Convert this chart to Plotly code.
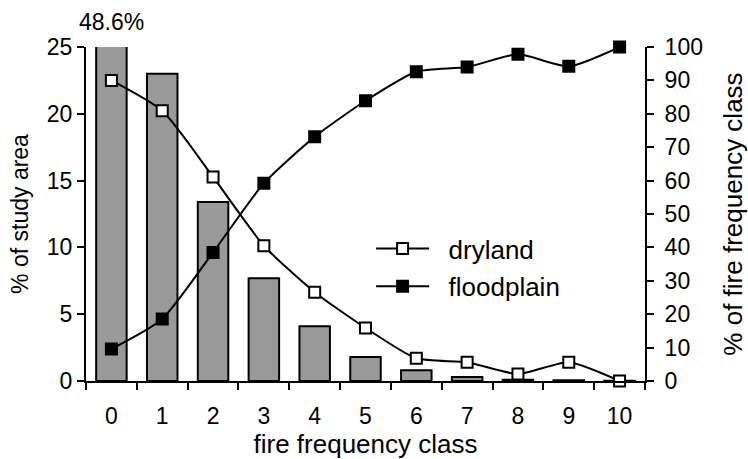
import plotly.graph_objects as go

# fire frequency classes
classes = [str(i) for i in range(11)]

# share of study area in each class (%)
area_pct = [48.6, 23.0, 13.4, 7.7, 4.1, 1.8, 0.8, 0.3, 0.1, 0.05, 0.02]

# composition of each fire frequency class (%)
dryland = [90.0, 80.9, 61.1, 40.5, 26.6, 15.9, 6.8, 5.6, 2.1, 5.6, 0.0]
floodplain = [9.6, 18.6, 38.5, 59.2, 73.1, 83.9, 92.6, 94.0, 97.8, 94.2, 100.0]

FONT = "Liberation Sans, Arial, sans-serif"
TICK_SIZE = 23
TITLE_SIZE = 26
PAD = "\u00a0\u00a0"  # gap between legend symbol and label

fig = go.Figure()

fig.add_trace(go.Bar(
    x=classes, y=area_pct, width=0.6,
    marker=dict(color="#999999", line=dict(color="black", width=2)),
    showlegend=False, yaxis="y",
))

fig.add_trace(go.Scatter(
    x=classes, y=dryland, name=PAD + "dryland", yaxis="y2",
    mode="lines+markers", line=dict(color="black", width=2, shape="spline", smoothing=0.6),
    marker=dict(symbol="square", size=11, color="white", line=dict(color="black", width=2)),
    legendgroup="a", cliponaxis=False,
))
fig.add_trace(go.Scatter(
    x=classes, y=floodplain, name=PAD + "floodplain", yaxis="y2",
    mode="lines+markers", line=dict(color="black", width=2, shape="spline", smoothing=0.6),
    marker=dict(symbol="square", size=11, color="black", line=dict(color="black", width=2)),
    legendgroup="b", cliponaxis=False,
))

# value of the clipped first bar
fig.add_annotation(
    x=classes[0], y=1.0, xref="x", yref="paper", yanchor="bottom", yshift=10,
    text=f"{area_pct[0]}%", showarrow=False, font=dict(size=TICK_SIZE, color="black", family=FONT),
)

axis_common = dict(
    showgrid=False, zeroline=False, showline=True, linecolor="black", linewidth=2,
    ticks="outside", ticklen=7, tickwidth=2, tickcolor="black",
    tickfont=dict(size=TICK_SIZE, color="black", family=FONT),
    title_font=dict(size=TITLE_SIZE, color="black", family=FONT),
    automargin=False,
)

fig.update_layout(
    width=748, height=459,
    margin=dict(l=86, r=103, t=47, b=78),
    paper_bgcolor="white", plot_bgcolor="white",
    font=dict(family=FONT, size=TITLE_SIZE, color="black"),
    bargap=0.4,
    xaxis=dict(**axis_common, type="category", tickson="boundaries", ticklabelstandoff=13,
               range=[-0.5, 10.5],
               title=dict(text="fire frequency class", standoff=0)),
    yaxis=dict(**axis_common, range=[0, 25], tickvals=[0, 5, 10, 15, 20, 25],
               title=dict(text="% of study area", standoff=12,
                          font=dict(size=23, color="black", family=FONT))),
    yaxis2=dict(**axis_common, range=[0, 100], tickvals=list(range(0, 101, 10)),
                overlaying="y", side="right", ticklabelstandoff=6,
                title=dict(text="% of fire frequency class", standoff=22)),
    legend=dict(x=0.51, y=0.467, xanchor="left", yanchor="top",
                bgcolor="rgba(0,0,0,0)", font=dict(size=TITLE_SIZE, family=FONT),
                itemwidth=53, tracegroupgap=1),
    showlegend=True,
)

fig.write_html("out.html")
